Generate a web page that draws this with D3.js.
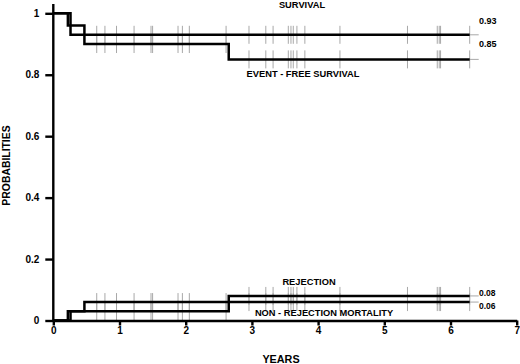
<!DOCTYPE html>
<html>
<head>
<meta charset="utf-8">
<script src="https://cdn.jsdelivr.net/npm/d3@7"></script>
<style>
  body { margin: 0; background: #fff; }
  svg { font-family: 'Liberation Sans', Arial, sans-serif; font-weight: bold; }
</style>
</head>
<body>
<div id="chart"></div>
<script>
// step curves: [years, probability]
const survival = [[0, 1], [0.26, 0.93], [6.29, 0.93]]
const eventFree = [[0, 1], [0.22, 0.96], [0.47, 0.90], [2.65, 0.85], [6.29, 0.85]]
const rejection = [[0, 0], [0.22, 0.03], [2.65, 0.08], [6.29, 0.08]]
const nonRejection = [[0, 0], [0.26, 0.03], [0.47, 0.06], [6.29, 0.06]]

// censored follow-up times (years)
const censored = [0.656, 0.78, 0.955, 1.22, 1.476, 1.50, 1.884, 1.95, 2.055, 2.61, 2.956,
  3.21, 3.32, 3.55, 3.59, 3.625, 3.68, 3.80, 4.33, 5.35, 5.80, 5.83, 5.85, 6.29]

const xTicks = [0, 1, 2, 3, 4, 5, 6, 7]
const yTicks = [0, 0.2, 0.4, 0.6, 0.8, 1]

const curves = [
  { name: 'SURVIVAL', data: survival, end: '0.93' },
  { name: 'EVENT - FREE SURVIVAL', data: eventFree, end: '0.85' },
  { name: 'REJECTION', data: rejection, end: '0.08' },
  { name: 'NON - REJECTION MORTALITY', data: nonRejection, end: '0.06' }
]

const width = 520, height = 364

const svg = d3.select('#chart')
  .append('svg')
  .attr('width', width)
  .attr('height', height)

const x = d3.scaleLinear().domain([0, 7]).range([53.3, 516.7])
const y = d3.scaleLinear().domain([0, 1]).range([320.5, 13.3])

// value of a step curve at time t
function valueAt(data, t) {
  let v = data[0][1]
  for (const d of data) if (d[0] <= t) v = d[1]
  return v
}

// censor marks
curves.forEach(c => {
  svg.append('g')
    .selectAll('line')
    .data(censored)
    .join('line')
    .attr('x1', d => x(d))
    .attr('x2', d => x(d))
    .attr('y1', d => y(valueAt(c.data, d)) - 9)
    .attr('y2', d => y(valueAt(c.data, d)) + 9)
    .attr('stroke', '#a8a8a8')
    .attr('stroke-width', 1)

  // short gray tail after last point
  const last = c.data[c.data.length - 1]
  svg.append('line')
    .attr('x1', x(last[0]))
    .attr('x2', x(last[0]) + 9)
    .attr('y1', y(last[1]))
    .attr('y2', y(last[1]))
    .attr('stroke', '#a8a8a8')
    .attr('stroke-width', 1)
})

// step lines
const line = d3.line()
  .x(d => x(d[0]))
  .y(d => y(d[1]))
  .curve(d3.curveStepAfter)

curves.forEach(c => {
  svg.append('path')
    .datum(c.data)
    .attr('fill', 'none')
    .attr('stroke', '#000')
    .attr('stroke-width', 2.5)
    .attr('d', line)
})

// axes
const xAxis = svg.append('g')
  .attr('transform', 'translate(0,' + y(0) + ')')
  .call(d3.axisBottom(x).tickValues(xTicks).tickFormat(d3.format('d')).tickSize(5).tickSizeOuter(0))
const yAxis = svg.append('g')
  .attr('transform', 'translate(' + x(0) + ',0)')
  .call(d3.axisLeft(y).tickValues(yTicks).tickFormat(d => d === 0 || d === 1 ? d : d3.format('.1f')(d)).tickSize(8).tickSizeOuter(0))

yAxis.select('.domain').attr('d', 'M0,' + y(0) + 'V' + y(1.03))

;[xAxis, yAxis].forEach(a => {
  a.select('.domain').attr('stroke', '#000').attr('stroke-width', 2.4)
  a.selectAll('.tick line').attr('stroke', '#000').attr('stroke-width', 2.4)
  a.selectAll('.tick text')
    .attr('font-size', 10)
    .attr('font-weight', 'bold')
    .attr('fill', '#000')
    .attr('font-family', "'Liberation Sans', Arial, sans-serif")
})
xAxis.selectAll('.tick text').attr('dy', '0.71em').attr('y', 6)
yAxis.selectAll('.tick text').attr('x', -14)

// axis titles
svg.append('text')
  .attr('x', 281)
  .attr('y', 363)
  .attr('text-anchor', 'middle')
  .attr('font-size', 10.8)
  .text('YEARS')

svg.append('text')
  .attr('transform', 'translate(10,' + 165.5 + ') rotate(-90)')
  .attr('text-anchor', 'middle')
  .attr('font-size', 10.4)
  .text('PROBABILITIES')

// curve names
const names = [
  { text: 'SURVIVAL', x: 302, y: 8 },
  { text: 'EVENT - FREE SURVIVAL', x: 303, y: 77 },
  { text: 'REJECTION', x: 309, y: 285 },
  { text: 'NON - REJECTION MORTALITY', x: 324, y: 316 }
]
svg.append('g')
  .selectAll('text')
  .data(names)
  .join('text')
  .attr('x', d => d.x)
  .attr('y', d => d.y)
  .attr('text-anchor', 'middle')
  .attr('font-size', 9.3)
  .text(d => d.text)

// end values
const endY = [24, 47, 296, 308.5]
svg.append('g')
  .selectAll('text')
  .data(curves)
  .join('text')
  .attr('x', 479)
  .attr('y', (d, i) => endY[i])
  .attr('font-size', (d, i) => i < 2 ? 9 : 8.5)
  .text(d => d.end)
</script>
</body>
</html>
